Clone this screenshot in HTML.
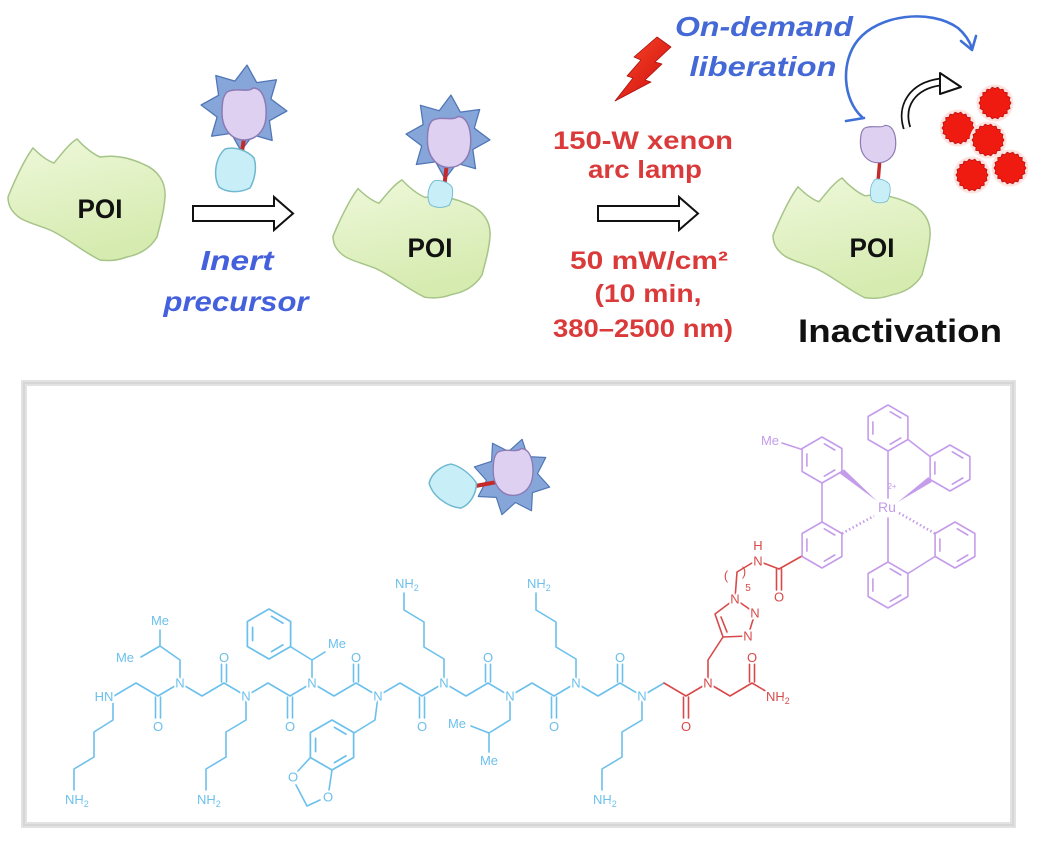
<!DOCTYPE html>
<html><head><meta charset="utf-8">
<style>
html,body{margin:0;padding:0;background:#fff;}
svg{display:block;}
text{font-family:"Liberation Sans",sans-serif;}
.cb{fill:none;stroke:#6cc0ec;stroke-width:1.6;stroke-linejoin:round;stroke-linecap:round;}
.cr{fill:none;stroke:#d84a4a;stroke-width:1.6;stroke-linejoin:round;stroke-linecap:round;}
.cp{fill:none;stroke:#c49cea;stroke-width:1.6;stroke-linejoin:round;stroke-linecap:round;}
.lb{font-size:13px;fill:#6cc0ec;paint-order:stroke;stroke:#fff;stroke-width:4px;stroke-linejoin:round;}
.lr{font-size:13px;fill:#d84a4a;paint-order:stroke;stroke:#fff;stroke-width:4px;stroke-linejoin:round;}
.lp{font-size:13px;fill:#c49cea;paint-order:stroke;stroke:#fff;stroke-width:4px;stroke-linejoin:round;}
.red{font-size:25px;font-weight:bold;fill:#da3a3a;}
.blu{font-size:28px;font-weight:bold;font-style:italic;fill:#4460dc;}
.poi{font-size:27px;font-weight:bold;fill:#111;}
</style></head><body>
<svg width="1050" height="856" viewBox="0 0 1050 856" xmlns="http://www.w3.org/2000/svg">
<defs>
<linearGradient id="gg" x1="0" y1="0" x2="0.3" y2="1"><stop offset="0" stop-color="#eef8da"/><stop offset="1" stop-color="#d6ebb0"/></linearGradient>
<linearGradient id="gb" x1="0" y1="0" x2="1" y2="1"><stop offset="0" stop-color="#ff4a2a"/><stop offset="1" stop-color="#c80c0c"/></linearGradient>
<path id="poi" d="M0,60 C8,40 18,20 25,11 C32,18 40,24 46,26 C55,15 62,6 69,2 C76,10 85,17 92,20 C105,18 120,20 135,27 C150,33 158,45 157,60 C156,75 152,88 149,100 C142,112 130,118 119,120 C108,124 100,124 92,123 C75,115 58,100 42,93 C30,88 20,86 12,81 C5,76 0,70 0,60 Z" fill="url(#gg)" stroke="#a6c488" stroke-width="1.5"/>
<polygon id="star" points="0,-100 25.3,-61 70.7,-70.7 61,-25.3 100,0 61,25.3 70.7,70.7 25.3,61 0,100 -25.3,61 -70.7,70.7 -61,25.3 -100,0 -61,-25.3 -70.7,-70.7 -25.3,-61" fill="#86a6da" stroke="#4f75b5" stroke-width="3" stroke-linejoin="round"/>
<path id="pblob" d="M-17,-22 C-8,-27 4,-21 9,-26 C19,-26 23,-12 22,3 C21,17 12,26 0,26 C-13,26 -22,14 -22,-1 C-22,-12 -21,-18 -17,-22Z" fill="#ddd0f0" stroke="#8c7ab4" stroke-width="1.5"/>
<path id="cblob" d="M-10,-21 C0,-24 13,-19 19,-12 C22,-3 20,9 15,18 C5,23 -8,23 -16,17 C-22,6 -20,-12 -10,-21Z" fill="#c8eef8" stroke="#6fb8d0" stroke-width="1.5"/>
<g id="gear"><circle r="18.5" fill="#fde3df"/><polygon points="16,0 14.3,2.5 15,5.5 12,7 12.3,10.3 9,10.8 8,13.9 4.9,13.4 2.8,15.8 0,14.5 -2.8,15.8 -4.9,13.4 -8,13.9 -9,10.8 -12.3,10.3 -12,7 -15,5.5 -14.3,2.5 -16,0 -14.3,-2.5 -15,-5.5 -12,-7 -12.3,-10.3 -9,-10.8 -8,-13.9 -4.9,-13.4 -2.8,-15.8 0,-14.5 2.8,-15.8 4.9,-13.4 8,-13.9 9,-10.8 12.3,-10.3 12,-7 15,-5.5 14.3,-2.5" fill="#ef1a10" stroke="#c01010" stroke-width="0.8" stroke-linejoin="round"/></g>
<g id="hex"><polygon points="0,-23 19.9,-11.5 19.9,11.5 0,23 -19.9,11.5 -19.9,-11.5"/><path d="M2.3,-16.2L12.8,-10M12.8,10L2.3,16.2M-15.1,6.1L-15.1,-6.1"/></g>
</defs>

<!-- ===== TOP SCHEME ===== -->
<use href="#poi" transform="translate(8,137)"/>
<text class="poi" x="100" y="218" text-anchor="middle" textLength="45" lengthAdjust="spacingAndGlyphs">POI</text>

<use href="#star" transform="translate(244,108) rotate(4) scale(0.43)"/>
<line x1="245" y1="132" x2="241" y2="158" stroke="#c42a2a" stroke-width="4"/>
<use href="#pblob" transform="translate(244,114)"/>
<use href="#cblob" transform="translate(235,170)"/>

<path d="M193,206 H274 V197 L293,213.5 L274,230 V221 H193 Z" fill="#fff" stroke="#111" stroke-width="2"/>
<text class="blu" x="237" y="270" text-anchor="middle" textLength="73" lengthAdjust="spacingAndGlyphs">Inert</text>
<text class="blu" x="236" y="311" text-anchor="middle" textLength="145" lengthAdjust="spacingAndGlyphs">precursor</text>

<use href="#star" transform="translate(448,137) rotate(4) scale(0.42)"/>
<line x1="447" y1="163" x2="444" y2="188" stroke="#c42a2a" stroke-width="4"/>
<use href="#pblob" transform="translate(449,142) scale(0.98,0.98)"/>
<use href="#poi" transform="translate(333,178) scale(1,0.97)"/>
<use href="#cblob" transform="translate(440,194) scale(0.62,0.62)"/>
<text class="poi" x="430" y="257" text-anchor="middle" textLength="45" lengthAdjust="spacingAndGlyphs">POI</text>

<polygon points="657,37 671,47 655,62 662,64 645,80 651,82 615,101 633,78 627,76 641,60 634,57" fill="url(#gb)" stroke="#a81010" stroke-width="0.8" stroke-linejoin="round"/>

<text class="red" x="643" y="149" text-anchor="middle" textLength="180" lengthAdjust="spacingAndGlyphs">150-W xenon</text>
<text class="red" x="645" y="178" text-anchor="middle" textLength="114" lengthAdjust="spacingAndGlyphs">arc lamp</text>
<path d="M598,206 H679 V197 L698,213.5 L679,230 V221 H598 Z" fill="#fff" stroke="#111" stroke-width="2"/>
<text class="red" x="649" y="269" text-anchor="middle" textLength="158" lengthAdjust="spacingAndGlyphs">50 mW/cm²</text>
<text class="red" x="648" y="302" text-anchor="middle" textLength="107" lengthAdjust="spacingAndGlyphs">(10 min,</text>
<text class="red" x="643" y="337" text-anchor="middle" textLength="180" lengthAdjust="spacingAndGlyphs">380–2500 nm)</text>

<text class="blu" x="764" y="36" text-anchor="middle" textLength="178" lengthAdjust="spacingAndGlyphs" style="fill:#4468d6">On-demand</text>
<text class="blu" x="763" y="76" text-anchor="middle" textLength="147" lengthAdjust="spacingAndGlyphs" style="fill:#4468d6">liberation</text>
<path d="M862,117 C843,100 840,62 858,40 C878,15 930,8 958,28 C965,34 969,40 972,48" fill="none" stroke="#3f70d8" stroke-width="2.6" stroke-linecap="round"/>
<path d="M961,41 L972,50 L976,36" fill="none" stroke="#3f70d8" stroke-width="2.6" stroke-linecap="round" stroke-linejoin="round"/>
<path d="M846,121 L864,118" fill="none" stroke="#3f70d8" stroke-width="2.6" stroke-linecap="round"/>

<line x1="880" y1="158" x2="878" y2="182" stroke="#c42a2a" stroke-width="3.5"/>
<use href="#pblob" transform="translate(878,144) scale(0.8,0.72)"/>
<use href="#poi" transform="translate(773,176) scale(1.0,0.99)"/>
<use href="#cblob" transform="translate(880,191) scale(0.5,0.55)"/>
<text class="poi" x="872" y="257" text-anchor="middle" textLength="45" lengthAdjust="spacingAndGlyphs">POI</text>

<path d="M907,128 C900,106 912,86 940,82" fill="none" stroke="#111" stroke-width="8.5"/>
<path d="M907,128 C900,106 912,86 940,82" fill="none" stroke="#fff" stroke-width="5"/>
<polygon points="940,73 961,87 940,94" fill="#fff" stroke="#111" stroke-width="2" stroke-linejoin="round"/>

<use href="#gear" transform="translate(995,103)"/>
<use href="#gear" transform="translate(958,128)"/>
<use href="#gear" transform="translate(988,140)"/>
<use href="#gear" transform="translate(1010,168)"/>
<use href="#gear" transform="translate(972,175)"/>

<text x="900" y="342" text-anchor="middle" font-size="32" font-weight="bold" fill="#111" textLength="204" lengthAdjust="spacingAndGlyphs">Inactivation</text>

<!-- ===== BOX ===== -->
<rect x="24" y="383" width="989" height="442" fill="none" stroke="#e2e2e2" stroke-width="6"/>
<rect x="24" y="383" width="989" height="442" fill="none" stroke="#d6d6d6" stroke-width="2"/>

<use href="#star" transform="translate(512,477) rotate(15) scale(0.39)"/>
<line x1="470" y1="487" x2="497" y2="482" stroke="#c42a2a" stroke-width="4"/>
<use href="#pblob" transform="translate(513,472) scale(0.9)"/>
<use href="#cblob" transform="translate(453,486) rotate(-60) scale(0.95,1.05)"/>

<!-- ===== CHEMICAL STRUCTURE ===== -->
<g class="cb">
<path d="M114,696 L136,683 L158,696 L180,683 L202,696 L224,683 L246,696 L268,683 L290,696 L312,683 L334,696 L356,683 L378,696 L400,683 L422,696 L444,683 L466,696 L488,683 L510,696 L532,683 L554,696 L576,683 L598,696 L620,683 L642,696 L664,683"/>
<path d="M155.5,697V718M160.5,697V718 M287.5,697V718M292.5,697V718 M419.5,697V718M424.5,697V718 M551.5,697V718M556.5,697V718"/>
<path d="M221.5,682V664M226.5,682V664 M353.5,682V664M358.5,682V664 M485.5,682V664M490.5,682V664 M617.5,682V664M622.5,682V664"/>
<path d="M113,700 V720 L94,732 V757 L74,769 V790"/>
<path d="M246,696 V720 L226,732 V757 L206,769 V790"/>
<path d="M642,696 V720 L622,732 V757 L602,769 V790"/>
<path d="M444,683 V659 L424,647 V622 L404,610 V593"/>
<path d="M576,683 V659 L556,647 V622 L536,610 V593"/>
<path d="M180,683 V660 L160,646 V630 M160,646 L141,657"/>
<path d="M312,683 V660 L291,647 M312,660 L325,652"/>
<path d="M510,696 V720 L489,733 L471,726 M489,733 V752"/>
<path d="M378,696 L375,720 L354,733"/>
<path d="M310.4,757.5 L298,771 M296,785 L307,806 L320,800 M329,790 L332,770"/>
<use href="#hex" transform="translate(269,634) scale(1.087)"/>
<use href="#hex" transform="translate(332,745) scale(1.087)"/>
</g>
<g class="lb">
<text x="104" y="701" text-anchor="middle">HN</text>
<text x="180" y="687.5" text-anchor="middle">N</text>
<text x="246" y="700.5" text-anchor="middle">N</text>
<text x="312" y="687.5" text-anchor="middle">N</text>
<text x="378" y="700.5" text-anchor="middle">N</text>
<text x="444" y="687.5" text-anchor="middle">N</text>
<text x="510" y="700.5" text-anchor="middle">N</text>
<text x="576" y="687.5" text-anchor="middle">N</text>
<text x="642" y="700.5" text-anchor="middle">N</text>
<text x="158" y="731" text-anchor="middle">O</text>
<text x="290" y="731" text-anchor="middle">O</text>
<text x="422" y="731" text-anchor="middle">O</text>
<text x="554" y="731" text-anchor="middle">O</text>
<text x="224" y="662" text-anchor="middle">O</text>
<text x="356" y="662" text-anchor="middle">O</text>
<text x="488" y="662" text-anchor="middle">O</text>
<text x="620" y="662" text-anchor="middle">O</text>
<text x="65" y="804">NH<tspan font-size="9" dy="3">2</tspan></text>
<text x="197" y="804">NH<tspan font-size="9" dy="3">2</tspan></text>
<text x="593" y="804">NH<tspan font-size="9" dy="3">2</tspan></text>
<text x="395" y="588">NH<tspan font-size="9" dy="3">2</tspan></text>
<text x="527" y="588">NH<tspan font-size="9" dy="3">2</tspan></text>
<text x="160" y="625" text-anchor="middle">Me</text>
<text x="125" y="662" text-anchor="middle">Me</text>
<text x="337" y="648" text-anchor="middle">Me</text>
<text x="457" y="728" text-anchor="middle">Me</text>
<text x="489" y="765" text-anchor="middle">Me</text>
<text x="293" y="781.5" text-anchor="middle">O</text>
<text x="328" y="801.5" text-anchor="middle">O</text>
</g>

<g class="cr">
<path d="M664,683 L686,696 L708,683 L730,696 L752,683 L774,696"/>
<path d="M683.5,697V718M688.5,697V718 M749.5,682V664M754.5,682V664"/>
<path d="M708,683 V660 L723,637"/>
<path d="M723,637 L715,614 L735,599 L755,613 L748,636 Z"/>
<path d="M727,632 L721,617"/>
<path d="M735,599 L737,572 L752,563"/>
<path d="M758,561 L779,569 M776.5,569 V590 M781.5,569 V590 M779,569 L802,556"/>
</g>
<g class="lr">
<text x="708" y="687.5" text-anchor="middle">N</text>
<text x="686" y="731" text-anchor="middle">O</text>
<text x="752" y="662" text-anchor="middle">O</text>
<text x="766" y="701">NH<tspan font-size="9" dy="3">2</tspan></text>
<text x="735" y="603.5" text-anchor="middle">N</text>
<text x="755" y="617.5" text-anchor="middle">N</text>
<text x="748" y="640.5" text-anchor="middle">N</text>
<text x="758" y="565.5" text-anchor="middle">N</text>
<text x="758" y="550" text-anchor="middle">H</text>
<text x="779" y="601.5" text-anchor="middle">O</text>
<text x="726" y="580" text-anchor="middle" style="stroke-width:0">(</text>
<text x="744" y="576" text-anchor="middle" style="stroke-width:0">)</text>
<text x="748" y="591" text-anchor="middle" font-size="10" style="stroke-width:0">5</text>
</g>

<g class="cp">
<use href="#hex" transform="translate(822,460)"/>
<use href="#hex" transform="translate(822,545)"/>
<use href="#hex" transform="translate(888,428)"/>
<use href="#hex" transform="translate(950,468)"/>
<use href="#hex" transform="translate(888,585)"/>
<use href="#hex" transform="translate(955,545)"/>
<path d="M782,443 L802,449.5"/>
<path d="M822,483 L822,522"/>
<path d="M888,498 V451 M888,518 V562"/>
<path d="M908,439.5 L930,456.5 M908,573.5 L935,556.5"/>
<path d="M842,533.5 L874,516 M899,513 L935,533.5" stroke-width="2.6" stroke-dasharray="1.5,2.5" stroke-linecap="butt"/>
</g>
<polygon points="840.1,473.8 843.9,469.2 877,501" fill="#c49cea"/>
<polygon points="898,502 928.4,477 931.8,482" fill="#c49cea"/>
<g class="lp">
<text x="770" y="445" text-anchor="middle">Me</text>
<text x="887" y="512" text-anchor="middle" font-size="14">Ru</text>
<text x="892" y="489" text-anchor="middle" font-size="8" style="stroke-width:0">2+</text>
</g>
</svg>
</body></html>
